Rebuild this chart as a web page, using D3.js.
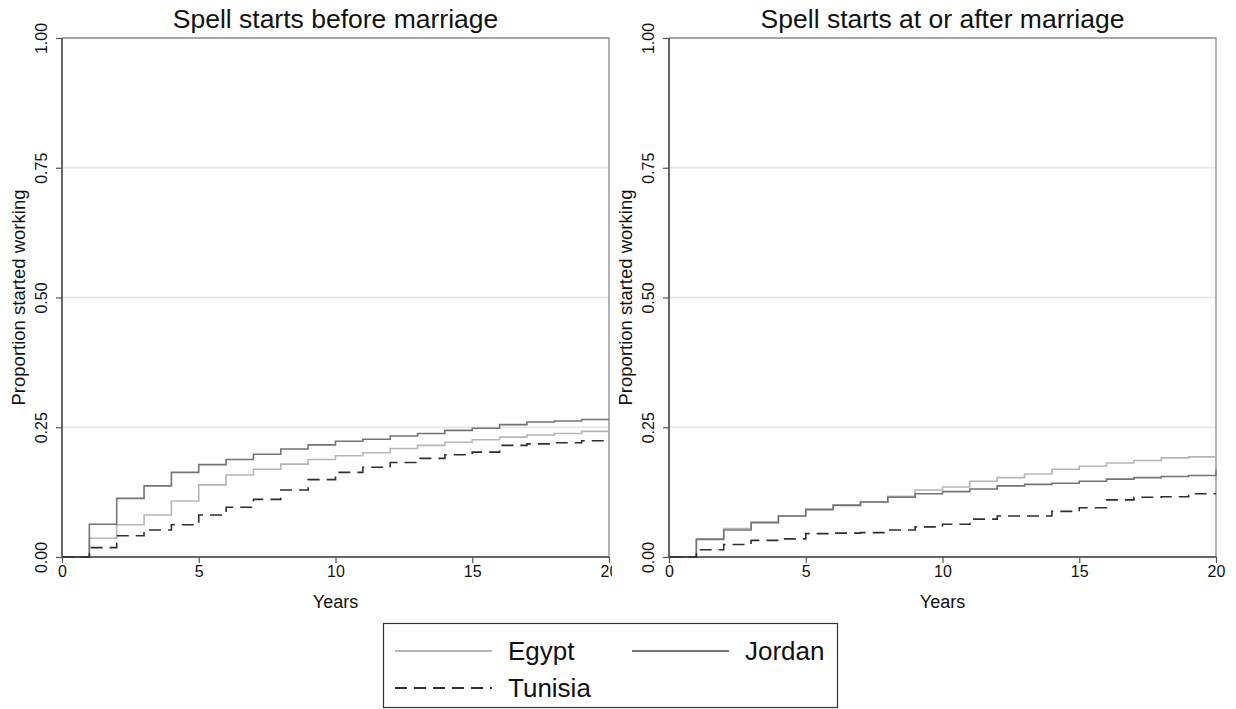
<!DOCTYPE html>
<html>
<head>
<meta charset="utf-8">
<script src="https://cdn.jsdelivr.net/npm/d3@7"></script>
<style>
  body { margin: 0; background: #fff; }
  svg { font-family: "Liberation Sans", Arial, Helvetica, sans-serif; }
</style>
</head>
<body>
<svg id="chart" width="1236" height="709"></svg>
<script>
// Years since spell start
const years = [0, 1, 2, 3, 4, 5, 6, 7, 8, 9, 10, 11, 12, 13, 14, 15, 16, 17, 18, 19, 20];
const xTicks = [0, 5, 10, 15, 20];
const yTicks = [0, 0.25, 0.5, 0.75, 1];
const panelTitles = ["Spell starts before marriage", "Spell starts at or after marriage"];
const countries = ["Egypt", "Jordan", "Tunisia"];

// Spell starts before marriage
const beforeEgypt   = [0, 0.036, 0.062, 0.081, 0.108, 0.139, 0.158, 0.169, 0.179, 0.188, 0.195, 0.201, 0.209, 0.215, 0.221, 0.226, 0.231, 0.235, 0.238, 0.242, 0.242];
const beforeJordan  = [0, 0.063, 0.113, 0.137, 0.163, 0.178, 0.188, 0.198, 0.208, 0.216, 0.223, 0.227, 0.233, 0.238, 0.244, 0.248, 0.255, 0.260, 0.262, 0.265, 0.265];
const beforeTunisia = [0, 0.018, 0.041, 0.052, 0.062, 0.081, 0.096, 0.111, 0.129, 0.149, 0.163, 0.173, 0.182, 0.190, 0.197, 0.202, 0.215, 0.218, 0.220, 0.224, 0.224];

// Spell starts at or after marriage
const afterEgypt   = [0, 0.035, 0.055, 0.068, 0.079, 0.090, 0.099, 0.106, 0.117, 0.129, 0.135, 0.146, 0.153, 0.160, 0.169, 0.175, 0.181, 0.186, 0.191, 0.193, 0.193];
const afterJordan  = [0, 0.034, 0.052, 0.066, 0.079, 0.092, 0.100, 0.106, 0.115, 0.122, 0.126, 0.131, 0.137, 0.140, 0.142, 0.146, 0.150, 0.153, 0.155, 0.157, 0.168];
const afterTunisia = [0, 0.014, 0.024, 0.032, 0.035, 0.045, 0.046, 0.047, 0.052, 0.058, 0.063, 0.073, 0.079, 0.079, 0.088, 0.095, 0.110, 0.115, 0.116, 0.122, 0.122];

const panels = [
    { title: panelTitles[0], series: [beforeEgypt, beforeJordan, beforeTunisia], left: 62, clip: 612 },
    { title: panelTitles[1], series: [afterEgypt, afterJordan, afterTunisia], left: 669, clip: null }
];

// Line styles per country
const styles = {
    Egypt:   { color: "#b6b6b6", dash: null,   width: 1.6 },
    Jordan:  { color: "#747474", dash: null,   width: 1.6 },
    Tunisia: { color: "#2e2e2e", dash: "12,7", width: 1.6 }
};

const svg = d3.select("#chart");
const plotW = 547, plotTop = 38, plotBottom = 557;

const defs = svg.append("defs");
defs.append("clipPath").attr("id", "leftClip")
    .append("rect").attr("x", 0).attr("y", 0).attr("width", 612).attr("height", 620);

panels.forEach((p, i) => {
    const g = svg.append("g");
    if (p.clip) g.attr("clip-path", "url(#leftClip)");

    const x = d3.scaleLinear().domain([0, 20]).range([p.left, p.left + plotW]);
    const y = d3.scaleLinear().domain([0, 1]).range([plotBottom, plotTop]);

    // gridlines
    g.append("g").selectAll("line")
        .data([0.25, 0.5, 0.75])
        .join("line")
        .attr("x1", x(0)).attr("x2", x(20))
        .attr("y1", d => y(d)).attr("y2", d => y(d))
        .attr("stroke", "#e3e3e3").attr("stroke-width", 1.3);

    // top & right frame
    g.append("path")
        .attr("d", `M${x(0)},${y(1)}H${x(20)}V${y(0)}`)
        .attr("fill", "none").attr("stroke", "#8a8a8a").attr("stroke-width", 1.3);

    // lines
    const line = d3.line()
        .x((d, k) => x(years[k]))
        .y(d => y(d))
        .curve(d3.curveStepAfter);

    p.series.forEach((s, k) => {
        const st = styles[countries[k]];
        g.append("path")
            .datum(s)
            .attr("d", line)
            .attr("fill", "none")
            .attr("stroke", st.color)
            .attr("stroke-width", st.width)
            .attr("stroke-dasharray", st.dash);
    });

    // x axis
    const xAxis = g.append("g")
        .attr("transform", `translate(0,${plotBottom})`)
        .call(d3.axisBottom(x).tickValues(xTicks).tickSize(6).tickPadding(3).tickFormat(d3.format("d")));
    xAxis.select(".domain").attr("stroke", "#333").attr("stroke-width", 1.5)
        .attr("d", `M${x(0)},0H${x(20)}`);
    xAxis.selectAll(".tick line").attr("stroke", "#555").attr("stroke-width", 1.2);
    xAxis.selectAll(".tick text").attr("font-size", 16).attr("fill", "#111")
        .style("font-family", "'Liberation Sans', Arial, sans-serif");

    // y axis
    const yAxis = g.append("g")
        .attr("transform", `translate(${x(0)},0)`)
        .call(d3.axisLeft(y).tickValues(yTicks).tickSize(6).tickFormat(d3.format(".2f")));
    yAxis.select(".domain").attr("stroke", "#333").attr("stroke-width", 1.5)
        .attr("d", `M0,${y(0)}V${y(1)}`);
    yAxis.selectAll(".tick line").attr("stroke", "#555").attr("stroke-width", 1.2);
    yAxis.selectAll(".tick text")
        .attr("x", null).attr("dy", null)
        .attr("transform", "translate(-15,0) rotate(-90)")
        .attr("text-anchor", "middle")
        .attr("font-size", 16).attr("fill", "#111")
        .style("font-family", "'Liberation Sans', Arial, sans-serif");

    // axis titles
    g.append("text")
        .attr("x", x(10)).attr("y", 608)
        .attr("text-anchor", "middle")
        .attr("font-size", 18).attr("fill", "#111")
        .text("Years");

    g.append("text")
        .attr("transform", `translate(${x(0) - 37},${(plotTop + plotBottom) / 2}) rotate(-90)`)
        .attr("text-anchor", "middle")
        .attr("font-size", 18.5).attr("fill", "#111")
        .text("Proportion started working");

    // panel title
    g.append("text")
        .attr("x", x(10)).attr("y", 28)
        .attr("text-anchor", "middle")
        .attr("font-size", 26.5).attr("fill", "#111")
        .text(p.title);
});

// Legend
const legend = svg.append("g");
legend.append("rect")
    .attr("x", 383.5).attr("y", 623.5).attr("width", 454).attr("height", 84)
    .attr("fill", "#fff").attr("stroke", "#333").attr("stroke-width", 1.2);

const legendPos = [
    { lx: 395, ly: 651 },
    { lx: 632, ly: 651 },
    { lx: 395, ly: 688 }
];
countries.forEach((c, k) => {
    const st = styles[c];
    const pos = legendPos[k];
    legend.append("line")
        .attr("x1", pos.lx).attr("x2", pos.lx + 97)
        .attr("y1", pos.ly).attr("y2", pos.ly)
        .attr("stroke", st.color).attr("stroke-width", 2)
        .attr("stroke-dasharray", st.dash);
    legend.append("text")
        .attr("x", pos.lx + 113).attr("y", pos.ly + 9)
        .attr("font-size", 26).attr("fill", "#111")
        .text(c);
});
</script>
</body>
</html>
